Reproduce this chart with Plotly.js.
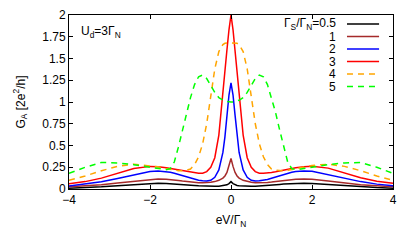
<!DOCTYPE html>
<html><head><meta charset="utf-8">
<script src="https://cdn.plot.ly/plotly-3.0.1.min.js"></script>
<style>html,body{margin:0;padding:0;background:#fff}</style>
</head><body><div id="chart" style="width:415px;height:242px"></div>
<script>
const eV = [-4, -3.6, -3.2, -2.8, -2.4, -2.0, -1.8, -1.6, -1.5, -1.4, -1.3, -1.2, -1.1, -1.0, -0.9, -0.8, -0.7, -0.6, -0.5, -0.4, -0.3, -0.2, -0.15, -0.1, -0.05,
  0,
  0.05, 0.1, 0.15, 0.2, 0.3, 0.4, 0.5, 0.6, 0.7, 0.8, 0.9, 1.0, 1.1, 1.2, 1.3, 1.4, 1.5, 1.6, 1.8, 2.0, 2.4, 2.8, 3.2, 3.6, 4];

const gR05 = [0.010, 0.016, 0.025, 0.037, 0.050, 0.062, 0.065, 0.064, 0.062, 0.060, 0.057, 0.053, 0.049, 0.045, 0.041, 0.037, 0.034, 0.032, 0.031, 0.031, 0.033, 0.037, 0.041, 0.048, 0.062,
  0.085,
  0.062, 0.048, 0.041, 0.037, 0.033, 0.031, 0.031, 0.032, 0.034, 0.037, 0.041, 0.045, 0.049, 0.053, 0.057, 0.060, 0.062, 0.064, 0.065, 0.064, 0.052, 0.038, 0.025, 0.016, 0.010];
const gR1 = [0.025, 0.036, 0.05, 0.068, 0.09, 0.11, 0.115, 0.113, 0.11, 0.105, 0.098, 0.092, 0.086, 0.08, 0.076, 0.073, 0.072, 0.073, 0.077, 0.085, 0.1, 0.125, 0.15, 0.19, 0.26,
  0.35,
  0.26, 0.19, 0.15, 0.125, 0.1, 0.085, 0.077, 0.073, 0.072, 0.073, 0.076, 0.08, 0.086, 0.092, 0.098, 0.105, 0.11, 0.113, 0.115, 0.112, 0.092, 0.07, 0.05, 0.036, 0.025];
const gR2 = [0.035, 0.055, 0.083, 0.12, 0.16, 0.2, 0.207, 0.2, 0.193, 0.182, 0.168, 0.152, 0.137, 0.123, 0.11, 0.1, 0.094, 0.092, 0.1, 0.135, 0.22, 0.42, 0.6, 0.85, 1.08,
  1.22,
  1.08, 0.85, 0.6, 0.42, 0.22, 0.135, 0.1, 0.092, 0.094, 0.1, 0.11, 0.123, 0.137, 0.152, 0.168, 0.182, 0.193, 0.2, 0.207, 0.205, 0.165, 0.122, 0.085, 0.056, 0.036];
const gR3 = [0.06, 0.085, 0.125, 0.18, 0.235, 0.26, 0.257, 0.245, 0.237, 0.228, 0.218, 0.208, 0.198, 0.19, 0.183, 0.18, 0.182, 0.2, 0.25, 0.36, 0.62, 1.07, 1.33, 1.6, 1.83,
  2.0,
  1.83, 1.6, 1.33, 1.07, 0.62, 0.36, 0.25, 0.2, 0.182, 0.18, 0.183, 0.19, 0.198, 0.208, 0.218, 0.228, 0.237, 0.245, 0.255, 0.262, 0.24, 0.185, 0.13, 0.09, 0.065];
const gR4 = [0.1, 0.15, 0.21, 0.26, 0.285, 0.27, 0.255, 0.235, 0.225, 0.215, 0.21, 0.21, 0.215, 0.23, 0.28, 0.37, 0.52, 0.75, 1.05, 1.38, 1.58, 1.66, 1.675, 1.68, 1.68,
  1.68,
  1.68, 1.68, 1.675, 1.66, 1.58, 1.38, 1.05, 0.75, 0.52, 0.37, 0.28, 0.23, 0.215, 0.21, 0.21, 0.215, 0.225, 0.235, 0.255, 0.27, 0.285, 0.26, 0.21, 0.15, 0.1];
const gR5 = [0.18, 0.25, 0.305, 0.3, 0.28, 0.25, 0.235, 0.222, 0.235, 0.31, 0.48, 0.68, 0.88, 1.05, 1.2, 1.29, 1.31, 1.27, 1.19, 1.11, 1.05, 1.02, 1.01, 1.005, 1.0,
  1.0,
  1.0, 1.005, 1.01, 1.02, 1.05, 1.11, 1.19, 1.27, 1.31, 1.29, 1.2, 1.05, 0.88, 0.68, 0.48, 0.31, 0.235, 0.222, 0.235, 0.25, 0.28, 0.3, 0.305, 0.25, 0.18];

const seriesNames = ["\u0393<sub>S</sub>/\u0393<sub>N</sub>=0.5", "1", "2", "3", "4", "5"];
const seriesY = [gR05, gR1, gR2, gR3, gR4, gR5];
const seriesColors = ["#000000", "#a52a2a", "#0000ff", "#ff0000", "#ffa500", "#00ff00"];
const seriesDash = ["solid", "solid", "solid", "solid", "6px,5px", "6px,5px"];

const traces = seriesY.map((y, i) => ({
  x: eV, y: y, type: "scatter", mode: "lines", name: seriesNames[i],
  line: {color: seriesColors[i], width: 1.5, dash: seriesDash[i]},
  showlegend: false, hoverinfo: "skip"
}));

const legTop = 0.948, legStep = 0.0718;
const annotations = seriesNames.map((n, i) => ({
  xref: "paper", yref: "paper", x: 0.828, y: legTop - i * legStep,
  xanchor: "right", yanchor: "middle", text: n, showarrow: false, borderpad: 0,
  font: {size: 12, color: "#000"}
}));
annotations.push({
  xref: "paper", yref: "paper", x: 0.035, y: 0.9, xanchor: "left", yanchor: "middle",
  text: "U<sub>d</sub>=3\u0393<sub>N</sub>", showarrow: false, borderpad: 0, font: {size: 12, color: "#000"}
});
const shapes = seriesNames.map((n, i) => ({
  type: "line", xref: "paper", yref: "paper",
  x0: 0.858, x1: 0.957, y0: legTop - i * legStep, y1: legTop - i * legStep,
  line: {color: seriesColors[i], width: 1.5, dash: seriesDash[i]}
}));

const axisCommon = {
  showline: true, linecolor: "#000", linewidth: 1, mirror: "ticks",
  ticks: "inside", ticklen: 4, tickcolor: "#000", tickwidth: 1,
  showgrid: false, zeroline: false, tickfont: {size: 12, color: "#000"}
};

const layout = {
  width: 415, height: 242,
  margin: {l: 69, r: 22, t: 15, b: 53},
  paper_bgcolor: "#fff", plot_bgcolor: "#fff",
  font: {family: "Liberation Sans, Arial, sans-serif", size: 12, color: "#000"},
  xaxis: Object.assign({}, axisCommon, {
    range: [-4, 4], tickvals: [-4, -2, 0, 2, 4],
    title: {text: "eV/\u0393<sub>N</sub>", font: {size: 12}, standoff: 9}
  }),
  yaxis: Object.assign({}, axisCommon, {
    range: [0, 2], tickvals: [0, 0.25, 0.5, 0.75, 1, 1.25, 1.5, 1.75, 2],
    ticktext: ["0", "0.25", "0.5", "0.75", "1", "1.25", "1.5", "1.75", "2"],
    title: {text: "G<sub>A</sub> [2e<sup>2</sup>/h]", font: {size: 12}, standoff: 14}
  }),
  annotations: annotations,
  shapes: shapes
};

Plotly.newPlot("chart", traces, layout, {staticPlot: true, displayModeBar: false});
</script>
</body></html>
